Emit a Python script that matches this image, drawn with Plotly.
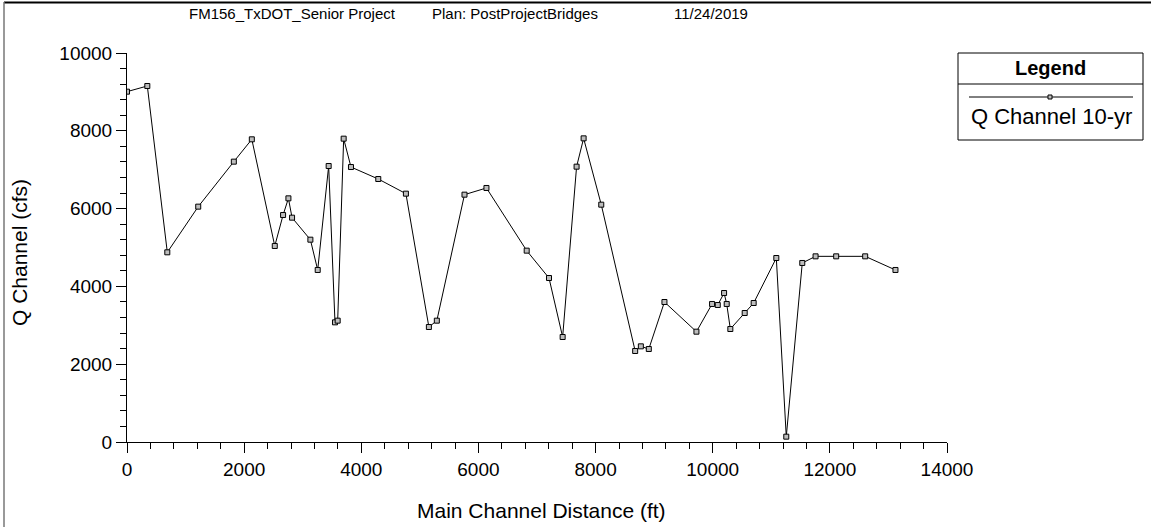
import plotly.graph_objects as go

# Data
distance_ft = [0, 347, 688, 1216, 1824, 2131, 2523, 2665, 2756, 2818, 3131, 3256,
               3443, 3551, 3597, 3699, 3824, 4290, 4762, 5154, 5290, 5762, 6137,
               6824, 7205, 7438, 7676, 7796, 8097, 8676, 8773, 8909, 9176, 9722,
               9989, 10086, 10194, 10239, 10301, 10546, 10699, 11086, 11256, 11529,
               11756, 12108, 12603, 13120]
q_channel_cfs = [9006, 9152, 4876, 6050, 7207, 7781, 5039, 5835, 6264, 5767, 5201, 4422,
                 7095, 3076, 3119, 7798, 7069, 6761, 6384, 2956, 3119, 6358, 6530,
                 4919, 4216, 2699, 7078, 7806, 6101, 2339, 2459, 2391, 3599, 2836,
                 3548, 3522, 3830, 3548, 2905, 3316, 3573, 4730, 137, 4602,
                 4773, 4773, 4773, 4422]
series_name = "Q Channel 10-yr"
title_parts = ["FM156_TxDOT_Senior Project", "Plan: PostProjectBridges", "11/24/2019"]
x_title = "Main Channel Distance (ft)"
y_title = "Q Channel (cfs)"

W, H = 1151, 527
L, R, T, B = 127, 947, 53, 442  # plot area in pixels


def px(x):
    return (x - L) / (R - L)


def py(y):
    return (B - y) / (B - T)


FONT = "Liberation Sans, Arial, sans-serif"

fig = go.Figure()
fig.add_trace(go.Scatter(
    x=distance_ft, y=q_channel_cfs, mode="lines+markers", name=series_name,
    line=dict(color="black", width=1),
    marker=dict(symbol="square", size=5, color="#bdbdbd",
                line=dict(color="black", width=1)),
    showlegend=False,
))

axis_common = dict(
    showgrid=False, zeroline=False, showline=True, linecolor="black", linewidth=1,
    ticks="outside", tickcolor="black", ticklen=10, tickwidth=1, automargin=False,
    tickformat="d",
    tickfont=dict(family=FONT, size=19, color="black"),
)
fig.update_xaxes(range=[0, 14000], dtick=2000, tick0=0,
                 minor=dict(dtick=400, ticks="outside", ticklen=6, tickcolor="black"),
                 **axis_common)
fig.update_yaxes(range=[0, 10000], dtick=2000, tick0=0,
                 minor=dict(dtick=400, ticks="outside", ticklen=6, tickcolor="black"),
                 **axis_common)

shapes = []
# outer frame (top and left edges)
shapes.append(dict(type="line", xref="paper", yref="paper",
                   x0=px(4), x1=px(W), y0=py(2.5), y1=py(2.5),
                   line=dict(color="black", width=2)))
shapes.append(dict(type="line", xref="paper", yref="paper",
                   x0=px(4), x1=px(4), y0=py(2), y1=py(H),
                   line=dict(color="#777777", width=1.5)))
# legend box
shapes.append(dict(type="rect", xref="paper", yref="paper",
                   x0=px(958), x1=px(1143), y0=py(53), y1=py(140),
                   line=dict(color="black", width=1), fillcolor="white"))
shapes.append(dict(type="line", xref="paper", yref="paper",
                   x0=px(958), x1=px(1143), y0=py(84), y1=py(84),
                   line=dict(color="black", width=1)))
shapes.append(dict(type="line", xref="paper", yref="paper",
                   x0=px(969), x1=px(1133), y0=py(97), y1=py(97),
                   line=dict(color="black", width=1)))
shapes.append(dict(type="rect", xref="paper", yref="paper",
                   x0=px(1048), x1=px(1052), y0=py(95), y1=py(99),
                   line=dict(color="black", width=1), fillcolor="#bdbdbd"))

annotations = []
title_x = [187, 430, 672]
for t, x0 in zip(title_parts, title_x):
    annotations.append(dict(text=t, xref="paper", yref="paper", x=px(x0), y=py(13),
                            xanchor="left", yanchor="middle", showarrow=False,
                            font=dict(family=FONT, size=15, color="black")))
annotations.append(dict(text="<b>Legend</b>", xref="paper", yref="paper",
                        x=px(1050), y=py(68), xanchor="center", yanchor="middle",
                        showarrow=False, font=dict(family=FONT, size=20, color="black")))
annotations.append(dict(text=series_name, xref="paper", yref="paper",
                        x=px(1051), y=py(117), xanchor="center", yanchor="middle",
                        showarrow=False, font=dict(family=FONT, size=22, color="black")))
annotations.append(dict(text=x_title, xref="paper", yref="paper",
                        x=px(541), y=py(510), xanchor="center", yanchor="middle",
                        showarrow=False, font=dict(family=FONT, size=21, color="black")))
annotations.append(dict(text=y_title, xref="paper", yref="paper",
                        x=px(19), y=py(253), xanchor="center", yanchor="middle",
                        textangle=-90,
                        showarrow=False, font=dict(family=FONT, size=21, color="black")))

fig.update_layout(
    width=W, height=H,
    margin=dict(l=L, r=W - R, t=T, b=H - B),
    paper_bgcolor="white", plot_bgcolor="white",
    shapes=shapes, annotations=annotations,
    font=dict(family=FONT, color="black"),
)

fig.write_html("out.html", config={"displayModeBar": False},
               post_script="document.body.style.margin='0';document.body.style.overflow='hidden';")
